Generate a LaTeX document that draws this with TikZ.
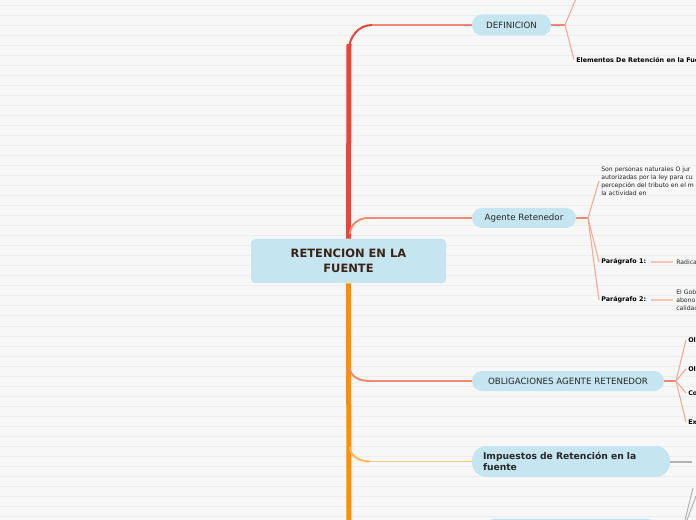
\documentclass[tikz,border=0pt]{standalone}
\usepackage{fontspec}
\setmainfont{DejaVu Sans}
\usetikzlibrary{positioning, calc}
\definecolor{bgc}{HTML}{F7F7F7}
\definecolor{rulec}{HTML}{EDEDED}
\definecolor{pale}{HTML}{C5E5F0}
\definecolor{trunkr}{HTML}{E8443A}
\definecolor{trunko}{HTML}{FF8F00}
\definecolor{salmon}{HTML}{F08A72}
\definecolor{salmonl}{HTML}{F5A992}
\definecolor{peach}{HTML}{FFCB85}
\definecolor{rootink}{HTML}{3A2316}
\definecolor{nodeink}{HTML}{262626}

\begin{document}
\begin{tikzpicture}[x=0.75pt,y=-0.75pt,
    pill/.style={fill=pale, text=nodeink, inner sep=0pt, rounded corners=7.5pt,
      minimum height=15pt, font=\fontsize{6.5}{7.5}\selectfont},
    leaf/.style={anchor=west, inner sep=1.5pt, text=black,
      font=\fontsize{4.8}{6}\selectfont\bfseries},
    note/.style={anchor=west, inner sep=1.5pt, align=left, text=black!85,
      font=\fontsize{4.6}{6}\selectfont},
    twig/.style={draw=salmonl, line width=0.8pt}]

  \useasboundingbox (0,0) rectangle (696,520);
  \clip (0,0) rectangle (696,520);
  \fill[bgc] (0,0) rectangle (696,520);
  \foreach \y in {6,16,...,516}
    \draw[rulec, line width=0.75pt] (0,\y) -- (696,\y);

  % main topics
  \node[fill=pale, rounded corners=3pt, minimum width=146.25pt, minimum height=33pt,
    align=center, text=rootink, font=\fontsize{8.6}{11.25}\selectfont\bfseries]
    (root) at (348.5,261) {RETENCION EN LA\\FUENTE};
  \node[pill, minimum width=59.25pt, minimum height=15.75pt] (defi) at (511.5,25) {DEFINICION};
  \node[pill, minimum width=78pt] (agente) at (524,218) {Agente Retenedor};
  \node[pill, minimum width=144pt] (oblig) at (568,381) {OBLIGACIONES AGENTE RETENEDOR};
  \node[pill, minimum width=148.5pt, minimum height=23.25pt, rounded corners=11pt,
    text width=132pt, align=left, font=\fontsize{6.9}{8.25}\selectfont\bfseries]
    (impu) at (571,461.5) {Impuestos de Retención en la\\fuente};
  \node[pill, minimum width=133.5pt, minimum height=23.25pt, rounded corners=11pt] (nxt) at (571,534) {};

  % sub topics
  \node[leaf] (elem) at (574,59.5) {Elementos De Retención en la Fuente};
  \node[note] (sonper) at (599,181) {Son personas naturales O jur\\autorizadas por la ley para cu\\percepción del tributo en el m\\la actividad en};
  \node[leaf] (par1) at (599,262) {Parágrafo 1:};
  \node[note] (rad) at (674,262) {Radica};
  \node[leaf] (par2) at (599,300) {Parágrafo 2:};
  \node[note] (gob) at (674,300) {El Gob\\abono\\calidad};
  \node[leaf] (ol1) at (686,340) {Ol};
  \node[leaf] (ol2) at (686,369) {Ol};
  \node[leaf] (co) at (686,393) {Co};
  \node[leaf] (ex) at (686,422) {Ex};

  % trunk
  \draw[trunkr, line width=3.75pt] (root.north) -- (349,44);
  \draw[trunko, line width=3.75pt] (root.south) -- (349,530);
  \draw[trunkr, line width=1.5pt] (349,50) to[out=90,in=180] (372,25);
  \draw[salmon, line width=0.8pt] (372,25) -- (defi.west);
  \draw[salmon, line width=1.5pt] (350,234) to[out=90,in=180] (368,218);
  \draw[salmon, line width=0.8pt] (368,218) -- (agente.west);
  \draw[salmon, line width=1.5pt] (350,368) to[out=-90,in=180] (370,381);
  \draw[salmon, line width=0.8pt] (370,381) -- (oblig.west);
  \draw[peach!70!trunko, line width=1.5pt] (350,447) to[out=-90,in=180] (370,461.5);
  \draw[peach, line width=0.8pt] (370,461.5) -- (impu.west);

  % branches
  \coordinate (dh) at (565,25);
  \draw[salmon, line width=0.8pt] (defi.east) -- (dh);
  \draw[twig] (dh) -- (577,-4);
  \draw[twig] (dh) -- (elem.west);

  \coordinate (ah) at (588,218);
  \draw[salmon, line width=0.8pt] (agente.east) -- (ah);
  \foreach \t in {sonper, par1, par2}
    \draw[twig] (ah) -- (\t.west);
  \draw[salmonl!70, line width=1.5pt, shorten <=2pt, shorten >=1pt] (par1.east) -- (rad.west);
  \draw[salmonl!70, line width=1.5pt, shorten <=2pt, shorten >=1pt] (par2.east) -- (gob.west);

  \coordinate (oh) at (676,381);
  \draw[salmon, line width=0.8pt] (oblig.east) -- (oh);
  \foreach \t in {ol1, ol2, co, ex}
    \draw[twig] (oh) -- (\t.west);

  \coordinate (ih) at (692,461.5);
  \draw[gray!60, line width=1.5pt] (impu.east) -- (ih);

  \coordinate (nh) at (681,536);
  \draw[gray!70, line width=0.6pt] (nh) -- (693,488);
  \draw[gray!70, line width=0.6pt] (nh) -- (696,496);
\end{tikzpicture}
\end{document}
